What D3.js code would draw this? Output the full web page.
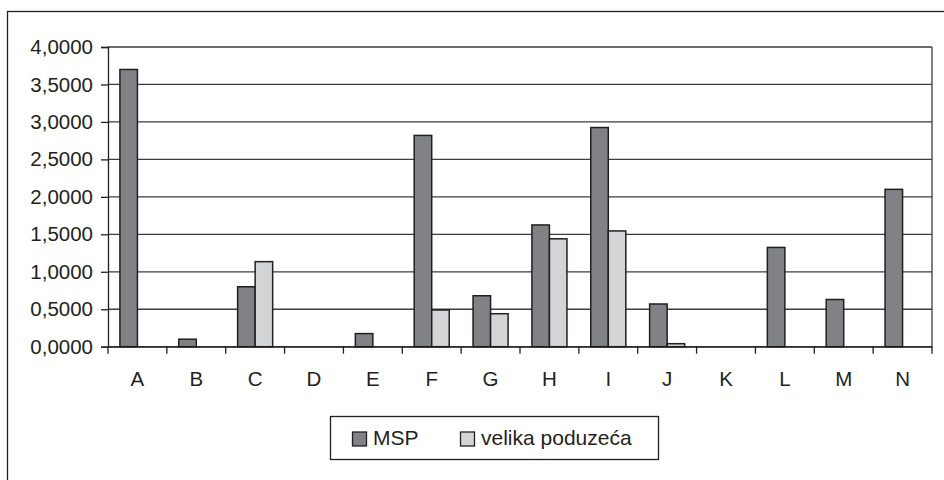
<!DOCTYPE html>
<html>
<head>
<meta charset="utf-8">
<script src="https://cdn.jsdelivr.net/npm/d3@7"></script>
<style>
  body { margin: 0; background: #fff; }
  text { font-family: "Liberation Sans", Arial, sans-serif; fill: #231f20; }
</style>
</head>
<body>
<div id="chart"></div>
<script>
var categories = ["A", "B", "C", "D", "E", "F", "G", "H", "I", "J", "K", "L", "M", "N"];
var seriesNames = ["MSP", "velika poduzeća"];
var mspValues = [3.70, 0.10, 0.80, 0, 0.175, 2.82, 0.68, 1.625, 2.925, 0.57, 0, 1.325, 0.63, 2.10];
var velikaValues = [0, 0, 1.135, 0, 0, 0.49, 0.44, 1.44, 1.545, 0.04, 0, 0, 0, 0];
var yTicks = [0, 0.5, 1, 1.5, 2, 2.5, 3, 3.5, 4];

var width = 944, height = 480;
var margin = { top: 47, right: 12, bottom: 133.3, left: 108 };
var colors = ["#808285", "#d3d4d6"];
var ink = "#231f20";

var locale = d3.formatLocale({ decimal: ",", thousands: ".", grouping: [3], currency: ["", ""] });
var fmt = locale.format(".4f");

var svg = d3.select("#chart").append("svg")
  .attr("width", width)
  .attr("height", height);

// outer frame (runs off the right and bottom edge, as in the picture)
svg.append("rect")
  .attr("x", 7.5).attr("y", 11.5)
  .attr("width", 1200).attr("height", 1200)
  .attr("fill", "none")
  .attr("stroke", ink)
  .attr("stroke-width", 1.3);

var x0 = d3.scaleBand()
  .domain(categories)
  .range([margin.left, width - margin.right])
  .paddingInner(0)
  .paddingOuter(0);

var x1 = d3.scaleBand()
  .domain(seriesNames)
  .range([0, x0.bandwidth()])
  .paddingInner(0)
  .paddingOuter(0.68);

var y = d3.scaleLinear()
  .domain([0, 4])
  .range([height - margin.bottom, margin.top]);

// gridlines
svg.append("g")
  .selectAll("line")
  .data(yTicks)
  .enter().append("line")
  .attr("x1", margin.left)
  .attr("x2", width - margin.right)
  .attr("y1", function (d) { return y(d); })
  .attr("y2", function (d) { return y(d); })
  .attr("stroke", "#3d3d3d")
  .attr("stroke-width", 1.3);

// right border of plot area
svg.append("line")
  .attr("x1", width - margin.right).attr("x2", width - margin.right)
  .attr("y1", y(4)).attr("y2", y(0))
  .attr("stroke", "#3d3d3d")
  .attr("stroke-width", 1.3);

// bars
var rows = categories.map(function (c, i) {
  return { cat: c, values: [mspValues[i], velikaValues[i]] };
});

var groups = svg.append("g")
  .selectAll("g")
  .data(rows)
  .enter().append("g")
  .attr("transform", function (d) { return "translate(" + x0(d.cat) + ",0)"; });

groups.selectAll("rect")
  .data(function (d) {
    return d.values.map(function (v, i) { return { name: seriesNames[i], value: v, i: i }; })
      .filter(function (e) { return e.value > 0; });
  })
  .enter().append("rect")
  .attr("x", function (d) { return x1(d.name); })
  .attr("width", x1.bandwidth())
  .attr("y", function (d) { return y(d.value); })
  .attr("height", function (d) { return y(0) - y(d.value); })
  .attr("fill", function (d) { return colors[d.i]; })
  .attr("stroke", ink)
  .attr("stroke-width", 1.5);

// y axis
var yAxis = svg.append("g")
  .attr("transform", "translate(" + margin.left + ",0)")
  .call(d3.axisLeft(y).tickValues(yTicks).tickFormat(fmt).tickSize(7).tickPadding(8));

// x axis
var xAxis = svg.append("g")
  .attr("transform", "translate(0," + y(0) + ")")
  .call(d3.axisBottom(x0).tickSize(0).tickPadding(25));

svg.append("g")
  .selectAll("line")
  .data(d3.range(categories.length + 1))
  .enter().append("line")
  .attr("x1", function (i) { return margin.left + i * x0.step(); })
  .attr("x2", function (i) { return margin.left + i * x0.step(); })
  .attr("y1", y(0))
  .attr("y2", y(0) + 7)
  .attr("stroke", ink)
  .attr("stroke-width", 1.3);

[yAxis, xAxis].forEach(function (ax) {
  ax.selectAll(".domain").attr("stroke", ink).attr("stroke-width", 1.3);
  ax.selectAll(".tick line").attr("stroke", ink).attr("stroke-width", 1.3);
  ax.selectAll("text")
    .style("font-family", "'Liberation Sans', Arial, sans-serif")
    .style("font-size", "20.5px")
    .attr("fill", ink);
});

// legend
var legend = svg.append("g");
legend.append("rect")
  .attr("x", 330.5).attr("y", 416.5)
  .attr("width", 328).attr("height", 43)
  .attr("fill", "#fff")
  .attr("stroke", ink)
  .attr("stroke-width", 1.3);

var legendX = [352.5, 460.5];
var items = legend.selectAll("g.item")
  .data(seriesNames)
  .enter().append("g")
  .attr("class", "item")
  .attr("transform", function (d, i) { return "translate(" + legendX[i] + ",432)"; });

items.append("rect")
  .attr("width", 14).attr("height", 14)
  .attr("fill", function (d, i) { return colors[i]; })
  .attr("stroke", ink)
  .attr("stroke-width", 1.3);

items.append("text")
  .attr("x", 20.5)
  .attr("y", 13)
  .style("font-size", "21px")
  .text(function (d) { return d; });
</script>
</body>
</html>
